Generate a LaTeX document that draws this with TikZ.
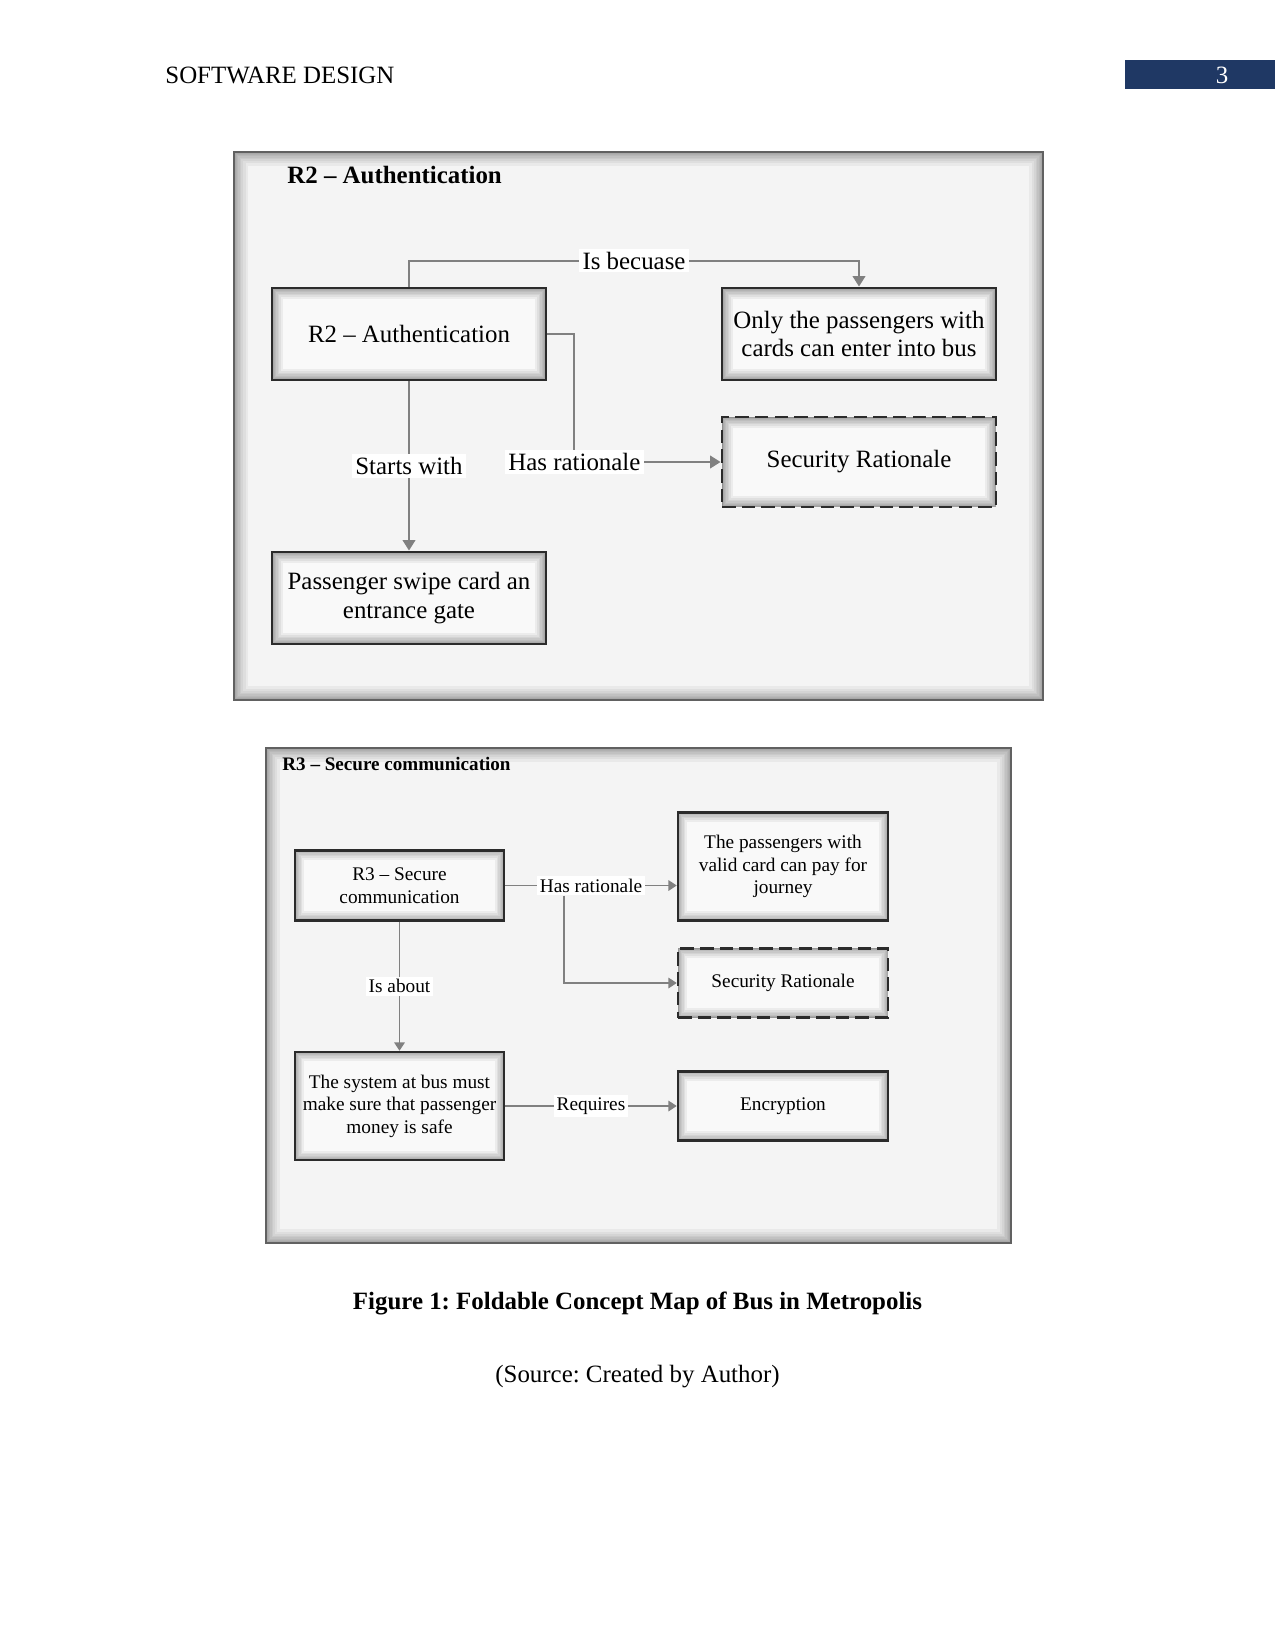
\documentclass[tikz,border=0pt]{standalone}
\usepackage{fontspec}
\setmainfont{Liberation Serif}
\usetikzlibrary{arrows.meta}
\frenchspacing

\definecolor{navybar}{HTML}{1F3864}
\definecolor{panelbg}{HTML}{F4F4F4}
\definecolor{conceptbg}{HTML}{F9F9F9}
\definecolor{linkgray}{HTML}{808080}
\definecolor{edgedark}{HTML}{2B2B2B}

\tikzset{
  boxdim/.style 2 args={minimum width=#1*0.4818pt, minimum height=#2*0.4818pt},
  innerglow/.style 2 args={path picture={
      \foreach \g in {1,...,#1}
        \draw[solid, black, opacity=#2, line width=\g*\g*0.11pt]
          (path picture bounding box.south west) rectangle (path picture bounding box.north east);
    }},
  panel/.style={draw=black!62, line width=1.1pt, fill=panelbg, inner sep=0pt, innerglow={11}{0.045}},
  conceptA/.style={draw=edgedark, line width=1.4pt, fill=conceptbg, inner sep=0pt,
    align=center, innerglow={10}{0.05}, font=\fontsize{12}{13.6}\selectfont},
  conceptB/.style={conceptA, line width=1.2pt, innerglow={9}{0.05}, font=\fontsize{9.3}{10.9}\selectfont},
  rationale/.style={dash pattern=on 6.5pt off 3pt},
  tagA/.style={fill=white, inner sep=1.5pt, font=\fontsize{12}{13.6}\selectfont},
  tagB/.style={fill=white, inner sep=1.2pt, font=\fontsize{9.3}{10.9}\selectfont},
  flowA/.style={draw=linkgray, line width=1pt, -{Triangle[length=5pt,width=6pt]}},
  flowB/.style={draw=linkgray, line width=0.8pt, -{Triangle[length=4pt,width=5pt]}},
}

\begin{document}
\begin{tikzpicture}[x=0.016933cm, y=-0.016933cm]
\useasboundingbox (0,0) rectangle (1275,1651);
\fill[white] (0,0) rectangle (1275,1651);

% ==== running head ====
\node[anchor=west, inner sep=0pt, font=\fontsize{12}{14}\selectfont] (runhead) at (165,75) {SOFTWARE DESIGN};
\fill[navybar] (1125,60) rectangle (1275,89);
\node[text=white, inner sep=0pt, font=\fontsize{12}{14}\selectfont] (pagenum) at (1222,75) {3};

% ==== R2 panel ====
\node[panel, boxdim={809}{548}] (frameA) at (638.5,426) {};
\node[anchor=west, inner sep=0pt, font=\fontsize{12}{14}\selectfont\bfseries] (titleA) at (287,175) {R2 -- Authentication};

\node[conceptA, boxdim={274}{92}] (r2)   at (409,334) {R2 -- Authentication};
\node[conceptA, boxdim={274}{92}] (only) at (859,334) {Only the passengers with\\cards can enter into bus};
\node[conceptA, rationale, boxdim={274}{90}] (sec2) at (859,462) {Security Rationale};
\node[conceptA, boxdim={274}{92}] (pass) at (409,598) {Passenger swipe card an\\entrance gate};

\draw[flowA] (r2.north) -- ++(0,-26) -| node[tagA, pos=0.25] (isb) {Is becuase} (only.north);
\draw[flowA] (r2.east) -- ++(27,0) |- node[tagA, pos=0.5] (hr2) {Has rationale} (sec2.west);
\draw[flowA] (r2.south) -- node[tagA] (sw) {Starts with} (pass.north);

% ==== R3 panel ====
\node[panel, boxdim={745}{495}] (frameB) at (638.5,995.5) {};
\node[anchor=west, inner sep=0pt, font=\fontsize{9.2}{11}\selectfont\bfseries] (titleB) at (282,764) {R3 -- Secure communication};

\node[conceptB, boxdim={209}{70}]  (r3)   at (399.5,885.5) {R3 -- Secure\\communication};
\node[conceptB, boxdim={210}{108}] (pay)  at (783,866.5) {The passengers with\\valid card can pay for\\journey};
\node[conceptB, rationale, boxdim={210}{69}] (sec3) at (783,983) {Security Rationale};
\node[conceptB, boxdim={209}{108}] (sys)  at (399.5,1106) {The system at bus must\\make sure that passenger\\money is safe};
\node[conceptB, boxdim={210}{69}]  (enc)  at (783,1106) {Encryption};

\draw[flowB] (r3.east) -- node[tagB] (hr3) {Has rationale} (r3.east -| pay.west);
\draw[flowB] ([xshift=-13pt]hr3.south) |- (sec3.west);
\draw[flowB] (r3.south) -- node[tagB] (ab) {Is about} (sys.north);
\draw[flowB] (sys.east) -- node[tagB] (req) {Requires} (enc.west);

% ==== caption ====
\node[inner sep=0pt, font=\fontsize{12}{14}\selectfont\bfseries] (figcap) at (637.5,1303) {Figure 1: Foldable Concept Map of Bus in Metropolis};
\node[inner sep=0pt, font=\fontsize{12}{14}\selectfont] (figsrc) at (637.5,1377) {(Source: Created by Author)};

\end{tikzpicture}
\end{document}
